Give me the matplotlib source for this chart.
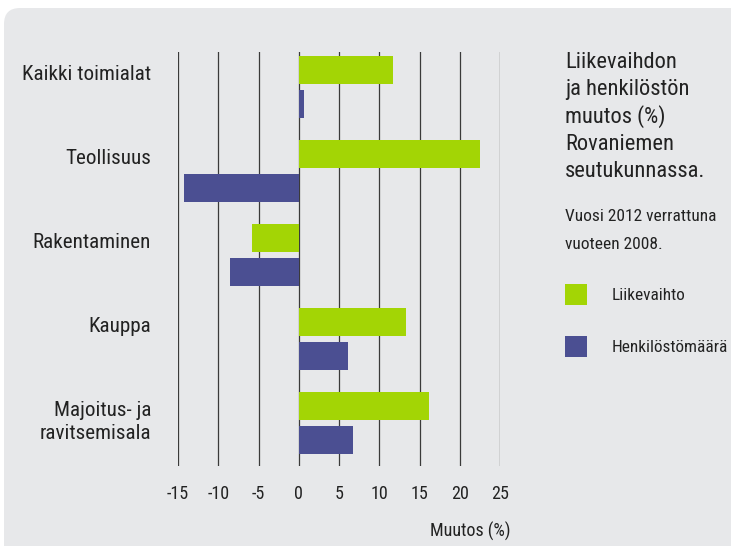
import matplotlib
matplotlib.use("Agg")
import matplotlib.pyplot as plt
from matplotlib.patches import FancyBboxPatch, Rectangle
import numpy as np

# ---- data ----
categories = ["Kaikki toimialat", "Teollisuus", "Rakentaminen", "Kauppa",
              "Majoitus- ja\nravitsemisala"]
liikevaihto = [11.7, 22.5, -5.8, 13.3, 16.2]
henkilosto = [0.6, -14.2, -8.5, 6.1, 6.8]
xticks = [-15, -10, -5, 0, 5, 10, 15, 20, 25]
series_names = ["Liikevaihto", "Henkilöstömäärä"]
title_lines = ["Liikevaihdon", "ja henkilöstön", "muutos (%)", "Rovaniemen",
               "seutukunnassa."]
subtitle_lines = ["Vuosi 2012 verrattuna", "vuoteen 2008."]
xlabel = "Muutos (%)"

GREEN = "#a3d505"
BLUE = "#4b4f92"
TEXT = "#222222"
PANEL = "#e7e8ea"

plt.rcParams['font.family'] = ['Liberation Sans Narrow', 'Roboto Condensed',
                               'Liberation Sans', 'DejaVu Sans']

W, H = 731, 546
fig = plt.figure(figsize=(W / 100, H / 100), dpi=100)
fig.patch.set_facecolor("white")

# rounded light-gray panel (only top-left corner visible)
panel = FancyBboxPatch((4 / W, -0.3), 1.3, (H - 8) / H + 0.3,
                       boxstyle="round,pad=0,rounding_size=0.022",
                       transform=fig.transFigure, facecolor=PANEL,
                       edgecolor="none", zorder=-5, mutation_aspect=W / H)
fig.patches.append(panel)

# axes: x from -15 (px 178) to 25 (px 500), y from px 52 to 466
left, right, top, bottom = 178, 500, 52, 466
ax = fig.add_axes([left / W, 1 - bottom / H, (right - left) / W, (bottom - top) / H])
ax.set_facecolor("none")
ax.set_zorder(2)

n = len(categories)
idx = np.arange(n)
off = 0.2024
h = 0.333
ax.barh(idx - off, liikevaihto, height=h, color=GREEN, zorder=3)
ax.barh(idx + off, henkilosto, height=h, color=BLUE, zorder=3)

ax.set_xlim(-15, 25)
ax.set_ylim(4.512, -0.417)
for t in xticks:
    ax.axvline(t, color="#3a3a3a", lw=0.9, zorder=1)

for s in ax.spines.values():
    s.set_visible(False)
ax.set_xticks(xticks)
ax.set_xticklabels([str(t) for t in xticks])
ax.tick_params(axis="x", length=0, pad=14, labelsize=13, labelcolor=TEXT)
ax.set_yticks([])

# category labels (each line drawn separately, first baseline near green bar)
for i, c in enumerate(categories):
    lines = c.split("\n")
    for k, line in enumerate(lines):
        ax.annotate(line, xy=(0, i - off), xycoords=ax.get_yaxis_transform(),
                    xytext=(-27, -(10 + 23 * k)), textcoords="offset pixels",
                    ha="right", va="baseline",
                    fontsize=15.2, color=TEXT, annotation_clip=False)

# x label
fig.text(510 / W, 1 - 537 / H, xlabel, ha="right", va="baseline",
         fontsize=13, color=TEXT)

# title
for j, line in enumerate(title_lines):
    fig.text(565 / W, 1 - (68 + 27.3 * j) / H, line, ha="left", va="baseline",
             fontsize=16.2, color=TEXT)
for j, line in enumerate(subtitle_lines):
    fig.text(565 / W, 1 - (221 + 28 * j) / H, line, ha="left", va="baseline",
             fontsize=12.5, color=TEXT)

# legend
for j, (name, col) in enumerate(zip(series_names, [GREEN, BLUE])):
    y0 = 284 + 52 * j
    fig.patches.append(Rectangle((565 / W, 1 - (y0 + 21) / H), 22 / W, 21 / H,
                                 transform=fig.transFigure, facecolor=col,
                                 edgecolor="none"))
    fig.text(612 / W, 1 - (y0 + 11) / H, name, ha="left", va="center",
             fontsize=12.4, color=TEXT)

fig.savefig("out.png", dpi=100, facecolor=fig.get_facecolor())
